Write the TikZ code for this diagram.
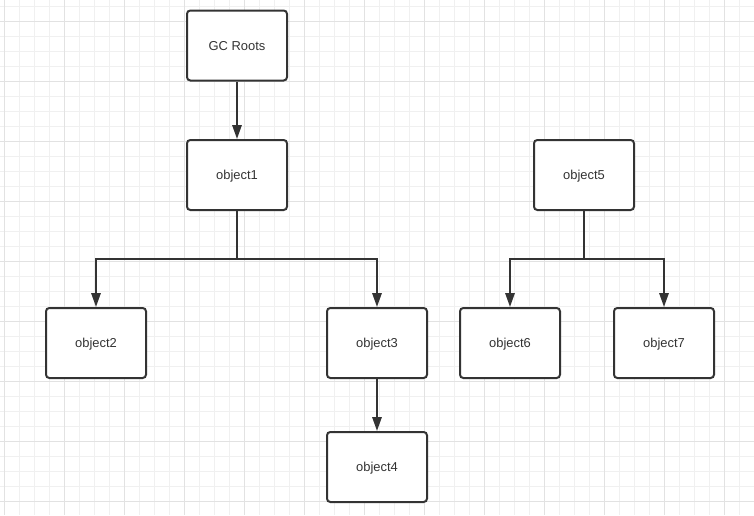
\documentclass[tikz,border=0pt]{standalone}
\usepackage{fontspec}
\setmainfont{Liberation Sans}
\usepackage{tikz}
\usetikzlibrary{arrows.meta, positioning}
\definecolor{gline}{RGB}{240,240,240}
\definecolor{gmajor}{RGB}{226,226,226}
\definecolor{edge}{RGB}{51,51,51}
\definecolor{ink}{RGB}{51,51,51}

\begin{document}
\begin{tikzpicture}[x=0.75pt, y=-0.75pt,
  objbox/.style={
    rectangle, rounded corners=2.5pt,
    draw=edge, fill=white, line width=1.5pt,
    minimum width=75pt, minimum height=52.5pt,
    text height=7pt, text depth=0pt,
    font=\fontsize{9.7}{11}\selectfont, text=ink
  },
  ref/.style={-{Triangle[length=10.5pt, width=7pt]}, line width=1.5pt, draw=edge}
]
  \useasboundingbox (0,0) rectangle (754,515);
  % background grid
  \foreach \x in {4,19,...,754} \draw[gline, line width=0.75pt] (\x,0) -- (\x,515);
  \foreach \y in {6,21,...,515} \draw[gline, line width=0.75pt] (0,\y) -- (754,\y);
  \foreach \x in {4,64,...,754} \draw[gmajor, line width=0.75pt] (\x,0) -- (\x,515);
  \foreach \y in {21,81,...,515} \draw[gmajor, line width=0.75pt] (0,\y) -- (754,\y);

  \node[objbox] (gc) at (237,45.5) {GC Roots};
  \node[objbox] (o1) at (237,175) {object1};
  \node[objbox] (o2) at (96,343) {object2};
  \node[objbox] (o3) at (377,343) {object3};
  \node[objbox] (o4) at (377,467) {object4};
  \node[objbox] (o5) at (584,175) {object5};
  \node[objbox] (o6) at (510,343) {object6};
  \node[objbox] (o7) at (664,343) {object7};

  \coordinate (j1) at (237,259);
  \coordinate (j5) at (584,259);

  \draw[ref] (gc) -- (o1);
  \draw[ref] (o1.south) -- (j1) -| (o2.north);
  \draw[ref] (o1.south) -- (j1) -| (o3.north);
  \draw[ref] (o3) -- (o4);
  \draw[ref] (o5.south) -- (j5) -| (o6.north);
  \draw[ref] (o5.south) -- (j5) -| (o7.north);
\end{tikzpicture}
\end{document}
